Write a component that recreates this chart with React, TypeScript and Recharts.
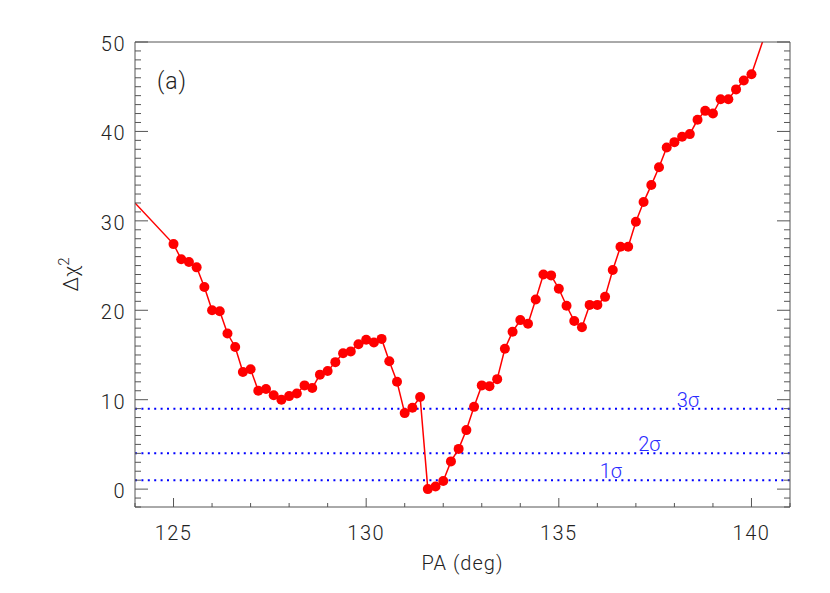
import React from 'react';
import { ComposedChart, Line, XAxis, YAxis, ReferenceLine } from 'recharts';

const PA = [
  125.0, 125.2, 125.4, 125.6, 125.8, 126.0, 126.2, 126.4, 126.6, 126.8,
  127.0, 127.2, 127.4, 127.6, 127.8, 128.0, 128.2, 128.4, 128.6, 128.8,
  129.0, 129.2, 129.4, 129.6, 129.8, 130.0, 130.2, 130.4, 130.6, 130.8,
  131.0, 131.2, 131.4, 131.6, 131.8, 132.0, 132.2, 132.4, 132.6, 132.8,
  133.0, 133.2, 133.4, 133.6, 133.8, 134.0, 134.2, 134.4, 134.6, 134.8,
  135.0, 135.2, 135.4, 135.6, 135.8, 136.0, 136.2, 136.4, 136.6, 136.8,
  137.0, 137.2, 137.4, 137.6, 137.8, 138.0, 138.2, 138.4, 138.6, 138.8,
  139.0, 139.2, 139.4, 139.6, 139.8, 140.0,
];
const DCHI2 = [
  27.4, 25.7, 25.4, 24.8, 22.6, 20.0, 19.9, 17.4, 15.9, 13.1,
  13.4, 11.0, 11.2, 10.5, 10.0, 10.4, 10.7, 11.6, 11.3, 12.8,
  13.2, 14.2, 15.2, 15.4, 16.2, 16.7, 16.4, 16.8, 14.3, 12.0,
  8.5, 9.1, 10.3, 0.0, 0.3, 0.9, 3.1, 4.5, 6.6, 9.2,
  11.6, 11.5, 12.3, 15.7, 17.6, 18.9, 18.5, 21.2, 24.0, 23.9,
  22.4, 20.5, 18.8, 18.1, 20.6, 20.6, 21.5, 24.5, 27.1, 27.1,
  29.9, 32.1, 34.0, 36.0, 38.2, 38.8, 39.4, 39.7, 41.3, 42.3,
  42.0, 43.6, 43.6, 44.7, 45.7, 46.4,
];
// the curve runs on past the plotted symbols at both ends
const EDGE_PA = [124, 141];
const EDGE_DCHI2 = [32.0, 59.0];

const SIGMA_LEVELS = [1, 4, 9];
const SIGMA_LABELS = ['1σ', '2σ', '3σ'];
const SIGMA_LABEL_PA = [136.35, 137.35, 138.35];

const X_DOMAIN = [124, 141];
const Y_DOMAIN = [-2, 50];
const X_TICKS = Array.from({ length: 18 }, (_, i) => 124 + i);
const Y_TICKS = Array.from({ length: 53 }, (_, i) => -2 + i);

const points = PA.map((pa, i) => ({ pa, d: DCHI2[i] }));
const lineData = [{ pa: EDGE_PA[0], d: EDGE_DCHI2[0] }, ...points, { pa: EDGE_PA[1], d: EDGE_DCHI2[1] }];

const FONT = 'Roboto, "Liberation Sans", Arial, sans-serif';
const AXIS = '#555';
const TEXT = '#222';

const renderTick = (p: any, side: 'bottom' | 'top' | 'left' | 'right') => {
  const { x, y } = p;
  const v = p.payload.value;
  if (side === 'bottom' || side === 'top') {
    const major = v % 5 === 0;
    const len = major ? 9 : 4;
    const dir = side === 'bottom' ? -1 : 1;
    return (
      <g>
        <line x1={x} y1={y} x2={x} y2={y + dir * len} stroke={AXIS} strokeWidth={1} />
        {side === 'bottom' && major && (
          <text x={x} y={y + 33} textAnchor="middle" fontSize={20} fontWeight={300} fontFamily={FONT} fill={TEXT} letterSpacing={1.5}>
            {v}
          </text>
        )}
      </g>
    );
  }
  const major = v % 10 === 0;
  const len = major ? 13 : 6;
  const dir = side === 'left' ? 1 : -1;
  return (
    <g>
      <line x1={x} y1={y} x2={x + dir * len} y2={y} stroke={AXIS} strokeWidth={1} />
      {side === 'left' && major && (
        <text x={x - 9} y={y + 9} textAnchor="end" fontSize={20} fontWeight={300} fontFamily={FONT} fill={TEXT} letterSpacing={1.5}>
          {v}
        </text>
      )}
    </g>
  );
};

export default function App() {
  return (
    <div style={{ position: 'absolute', left: 0, top: 0, width: 830, height: 593, background: '#fff' }}>
      <ComposedChart width={830} height={593} margin={{ top: 32, right: 20, bottom: 46, left: 75 }}>
        <XAxis
          xAxisId="b"
          type="number"
          dataKey="pa"
          domain={X_DOMAIN}
          ticks={X_TICKS}
          interval={0}
          allowDataOverflow
          height={40}
          tickSize={0}
          tickMargin={0}
          tickLine={false}
          axisLine={{ stroke: AXIS }}
          tick={(p: any) => renderTick(p, 'bottom')}
          label={(p: any) => {
            const vb = p.viewBox;
            return (
              <text x={vb.x + vb.width / 2} y={vb.y + 63} textAnchor="middle" fontSize={20} fontWeight={300} fontFamily={FONT} fill={TEXT} letterSpacing={1}>
                PA (deg)
              </text>
            );
          }}
        />
        <XAxis
          xAxisId="t"
          orientation="top"
          type="number"
          domain={X_DOMAIN}
          ticks={X_TICKS}
          interval={0}
          allowDataOverflow
          height={10}
          tickSize={0}
          tickMargin={0}
          tickLine={false}
          axisLine={{ stroke: AXIS }}
          tick={(p: any) => renderTick(p, 'top')}
        />
        <YAxis
          yAxisId="l"
          type="number"
          domain={Y_DOMAIN}
          ticks={Y_TICKS}
          interval={0}
          allowDataOverflow
          width={60}
          tickSize={0}
          tickMargin={0}
          tickLine={false}
          axisLine={{ stroke: AXIS }}
          tick={(p: any) => renderTick(p, 'left')}
          label={(p: any) => {
            const vb = p.viewBox;
            const cx = vb.x + 3;
            const cy = vb.y + vb.height / 2;
            return (
              <text x={cx} y={cy} transform={`rotate(-90 ${cx} ${cy})`} textAnchor="middle" fontSize={21} fontWeight={300} fontFamily={FONT} fill={TEXT}>
                Δχ
                <tspan fontSize={15} dy={-9}>2</tspan>
              </text>
            );
          }}
        />
        <YAxis
          yAxisId="r"
          orientation="right"
          type="number"
          domain={Y_DOMAIN}
          ticks={Y_TICKS}
          interval={0}
          allowDataOverflow
          width={20}
          tickSize={0}
          tickMargin={0}
          tickLine={false}
          axisLine={{ stroke: AXIS }}
          tick={(p: any) => renderTick(p, 'right')}
        />
        {SIGMA_LEVELS.map((lvl, i) => (
          <ReferenceLine
            key={lvl}
            xAxisId="b"
            yAxisId="l"
            y={lvl}
            stroke="#0000ff"
            strokeWidth={2}
            strokeDasharray="2 4.4"
            label={(p: any) => {
              const vb = p.viewBox;
              const x = vb.x + ((SIGMA_LABEL_PA[i] - X_DOMAIN[0]) / (X_DOMAIN[1] - X_DOMAIN[0])) * vb.width;
              return (
                <text x={x} y={vb.y - 2} textAnchor="middle" fontSize={20} fontWeight={300} fontFamily={FONT} fill="#2a2aff">
                  {SIGMA_LABELS[i]}
                </text>
              );
            }}
          />
        ))}
        <Line
          xAxisId="b"
          yAxisId="l"
          data={lineData}
          dataKey="d"
          type="linear"
          stroke="#ff0000"
          strokeWidth={1.5}
          dot={false}
          activeDot={false}
          isAnimationActive={false}
        />
        <Line
          xAxisId="b"
          yAxisId="l"
          data={points}
          dataKey="d"
          type="linear"
          stroke="none"
          dot={{ r: 5, fill: '#ff0000', stroke: 'none' }}
          activeDot={false}
          isAnimationActive={false}
        />
      </ComposedChart>
      <div
        style={{
          position: 'absolute',
          left: 147,
          top: 68,
          width: 50,
          textAlign: 'center',
          lineHeight: '28px',
          fontSize: 23,
          fontWeight: 300,
          fontFamily: FONT,
          color: TEXT,
          letterSpacing: 1,
        }}
      >
        (a)
      </div>
    </div>
  );
}
